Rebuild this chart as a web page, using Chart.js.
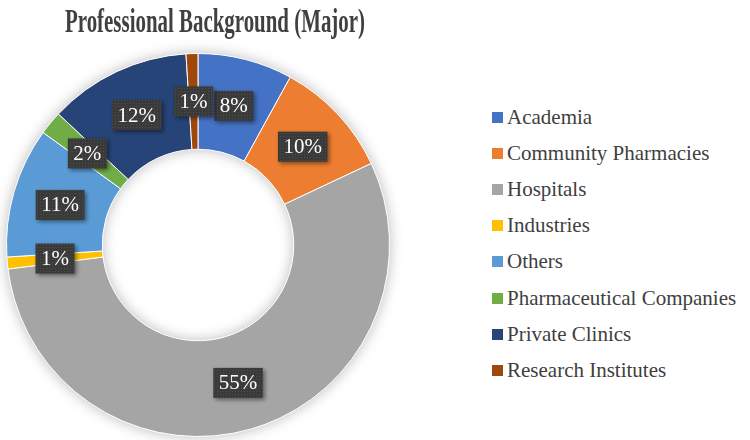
<!DOCTYPE html>
<html lang="en">
<head>
<meta charset="UTF-8">
<title>Professional Background (Major)</title>
<script src="https://cdn.jsdelivr.net/npm/chart.js"></script>
<style>
  body { margin: 0; background: #fff; }
  #wrap { position: relative; width: 750px; height: 440px; }
  #chartBox { position: absolute; left: 0; top: 0; width: 430px; height: 440px; }
  #legend {
    position: absolute; left: 492px; top: 99px; margin: 0; padding: 0; list-style: none;
    font: 21px "Liberation Serif", "Times New Roman", serif; color: #404040;
  }
  #legend li { display: flex; align-items: center; height: 36.2px; white-space: nowrap; }
  #legend .sw { width: 11px; height: 11px; margin-right: 4px; flex: none; }
</style>
</head>
<body>
<div id="wrap">
  <div id="chartBox"><canvas id="bgChart"></canvas></div>
  <ul id="legend"></ul>
</div>

<script>
// data
const titleText = 'Professional Background (Major)';
const categories = ['Academia', 'Community Pharmacies', 'Hospitals', 'Industries',
                    'Others', 'Pharmaceutical Companies', 'Private Clinics', 'Research Institutes'];
const shares = [8, 10, 55, 1, 11, 2, 12, 1];
const sliceColors = ['#4472C4', '#ED7D31', '#A5A5A5', '#FFC000',
                     '#5B9BD5', '#70AD47', '#264478', '#9E480E'];

// dotted dark texture for the label boxes
const patCanvas = document.createElement('canvas');
patCanvas.width = 3; patCanvas.height = 3;
const pctx = patCanvas.getContext('2d');
pctx.fillStyle = '#3a3a3a';
pctx.fillRect(0, 0, 3, 3);
pctx.fillStyle = '#4d4d4d';
pctx.fillRect(1, 1, 1, 1);
const boxPattern = pctx.createPattern(patCanvas, 'repeat');

// narrow bold title, like the original
const condensedTitle = {
  id: 'condensedTitle',
  afterDraw(chart) {
    const ctx = chart.ctx;
    ctx.save();
    ctx.font = 'bold 33px "Liberation Serif"';
    ctx.fillStyle = '#404040';
    ctx.textAlign = 'center';
    ctx.textBaseline = 'alphabetic';
    const w = ctx.measureText(titleText).width;
    ctx.translate(215, 32);
    ctx.scale(300 / w, 1);
    ctx.fillText(titleText, 0, 0);
    ctx.restore();
  }
};

// soft shadow behind the ring
const ringShadow = {
  id: 'ringShadow',
  beforeDatasetsDraw(chart) {
    const arc = chart.getDatasetMeta(0).data[0];
    if (!arc) return;
    const ctx = chart.ctx;
    ctx.save();
    ctx.shadowColor = 'rgba(0,0,0,0.28)';
    ctx.shadowBlur = 14;
    ctx.fillStyle = '#fff';
    ctx.beginPath();
    ctx.arc(arc.x, arc.y, arc.outerRadius, 0, Math.PI * 2);
    ctx.arc(arc.x, arc.y, arc.innerRadius, 0, Math.PI * 2, true);
    ctx.fill();
    ctx.restore();
  }
};

// percentage labels in dark boxes
const sliceLabels = {
  id: 'sliceLabels',
  afterDatasetsDraw(chart) {
    const ctx = chart.ctx;
    const meta = chart.getDatasetMeta(0);
    ctx.save();
    ctx.font = '21px "Liberation Serif"';
    ctx.textAlign = 'center';
    ctx.textBaseline = 'middle';
    meta.data.forEach((arc, i) => {
      const p = arc.tooltipPosition();
      const txt = shares[i] + '%';
      const w = ctx.measureText(txt).width + 11;
      const h = 30;
      ctx.save();
      ctx.shadowColor = 'rgba(0,0,0,0.45)';
      ctx.shadowBlur = 4;
      ctx.shadowOffsetX = 2;
      ctx.shadowOffsetY = 2;
      ctx.fillStyle = boxPattern;
      ctx.fillRect(p.x - w / 2, p.y - h / 2, w, h);
      ctx.restore();
      ctx.fillStyle = '#ffffff';
      ctx.fillText(txt, p.x, p.y + 1);
    });
    ctx.restore();
  }
};

new Chart(document.getElementById('bgChart'), {
  type: 'doughnut',
  data: {
    labels: categories,
    datasets: [{
      data: shares,
      backgroundColor: sliceColors,
      borderColor: '#ffffff',
      borderWidth: 1
    }]
  },
  options: {
    responsive: true,
    maintainAspectRatio: false,
    animation: false,
    cutout: '50%',
    layout: { padding: { top: 53, bottom: 3, left: 6, right: 40 } },
    plugins: {
      legend: { display: false },
      title: { display: false },
      tooltip: { enabled: false }
    }
  },
  plugins: [ringShadow, sliceLabels, condensedTitle]
});

// legend on the right
const legendEl = document.getElementById('legend');
categories.forEach((name, i) => {
  const li = document.createElement('li');
  const sw = document.createElement('span');
  sw.className = 'sw';
  sw.style.background = sliceColors[i];
  li.appendChild(sw);
  li.appendChild(document.createTextNode(name));
  legendEl.appendChild(li);
});
</script>
</body>
</html>
